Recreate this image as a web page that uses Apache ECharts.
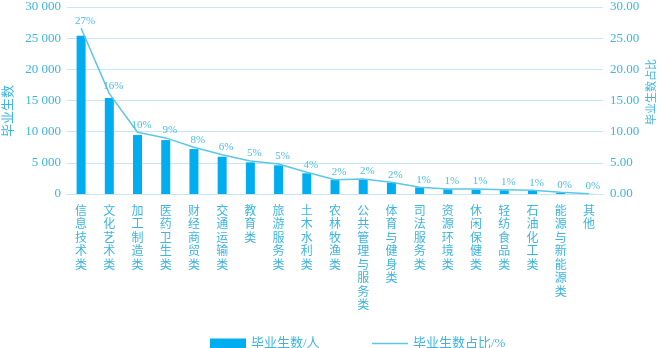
<!DOCTYPE html>
<html><head><meta charset="utf-8">
<script src="https://cdn.jsdelivr.net/npm/echarts@6/dist/echarts.min.js"></script>
<style>html,body{margin:0;padding:0;background:#fff}#c{width:662px;height:348px}</style>
</head><body><div id="c"></div>
<script>
const categories = ['信息技术类','文化艺术类','加工制造类','医药卫生类','财经商贸类','交通运输类','教育类','旅游服务类','土木水利类','农林牧渔类','公共管理与服务类','体育与健身类','司法服务类','资源环境类','休闲保健类','轻纺食品类','石油化工类','能源与新能源类','其他'];
const graduates = [25400,15400,9460,8650,7210,5980,5080,4600,3320,2240,2350,1810,1070,750,700,600,550,200,30];
const shares = [26.6,16.1,9.9,9.0,7.5,6.3,5.3,4.8,3.5,2.3,2.4,1.9,1.1,0.8,0.8,0.7,0.6,0.3,0.05];
const leftTicks = [0,30000,5000];
const rightTicks = [0,30,5];
const leftName = '毕业生数';
const rightName = '毕业生数占比';

const TXT = '#3db5df';
const FONT = '"Liberation Serif","Noto Sans CJK SC",serif';
const chart = echarts.init(document.getElementById('c'));
chart.setOption({
  animation:false,
  grid:{left:67,right:59,top:7,bottom:154},
  graphic:[
    {type:'text',x:9,y:111,rotation:Math.PI/2,
     style:{text:leftName,fill:TXT,font:'13px '+FONT,textAlign:'center',textVerticalAlign:'middle'}},
    {type:'text',x:652,y:92,rotation:Math.PI/2,
     style:{text:rightName,fill:TXT,font:'11px '+FONT,textAlign:'center',textVerticalAlign:'middle'}}
  ],
  legend:[
    {data:['毕业生数/人'],left:205,top:332,itemWidth:36,itemHeight:10,icon:'rect',
     textStyle:{color:TXT,fontSize:13,fontFamily:FONT}},
    {data:['毕业生数占比/%'],left:367,top:332,itemWidth:36,itemHeight:1.5,icon:'rect',
     textStyle:{color:TXT,fontSize:13,fontFamily:FONT}}
  ],
  xAxis:{type:'category',data:categories,
    axisLine:{show:true,lineStyle:{color:'#c5e7f5'}},axisTick:{show:false},
    axisLabel:{interval:0,margin:11,color:TXT,fontSize:12,lineHeight:13.5,fontFamily:FONT,
      formatter:v=>v.split('').join('\n')}},
  yAxis:[
    {type:'value',min:leftTicks[0],max:leftTicks[1],interval:leftTicks[2],
     axisLine:{show:false},axisTick:{show:false},
     axisLabel:{color:TXT,fontSize:13,fontFamily:FONT,margin:6,
       formatter:v=>String(v).replace(/\B(?=(\d{3})+(?!\d))/g,' ')},
     splitLine:{lineStyle:{color:'#c5e7f5',width:1}}},
    {type:'value',min:rightTicks[0],max:rightTicks[1],interval:rightTicks[2],
     axisLine:{show:false},axisTick:{show:false},
     axisLabel:{color:TXT,fontSize:13,fontFamily:FONT,margin:7,formatter:v=>v.toFixed(2)},
     splitLine:{show:false}}
  ],
  series:[
    {name:'毕业生数/人',type:'bar',data:graduates,barWidth:9,yAxisIndex:0,
     itemStyle:{color:'#00aeef'}},
    {name:'毕业生数占比/%',type:'line',data:shares,yAxisIndex:1,
     showSymbol:true,symbol:'circle',symbolSize:0,
     itemStyle:{color:'#5cc6e9'},lineStyle:{color:'#5cc6e9',width:1.5},
     label:{show:true,position:'top',distance:2,offset:[4,0],color:'#4dbde4',fontSize:11,fontFamily:FONT,
       formatter:p=>Math.round(p.value)+'%'}}
  ]
});
</script></body></html>
